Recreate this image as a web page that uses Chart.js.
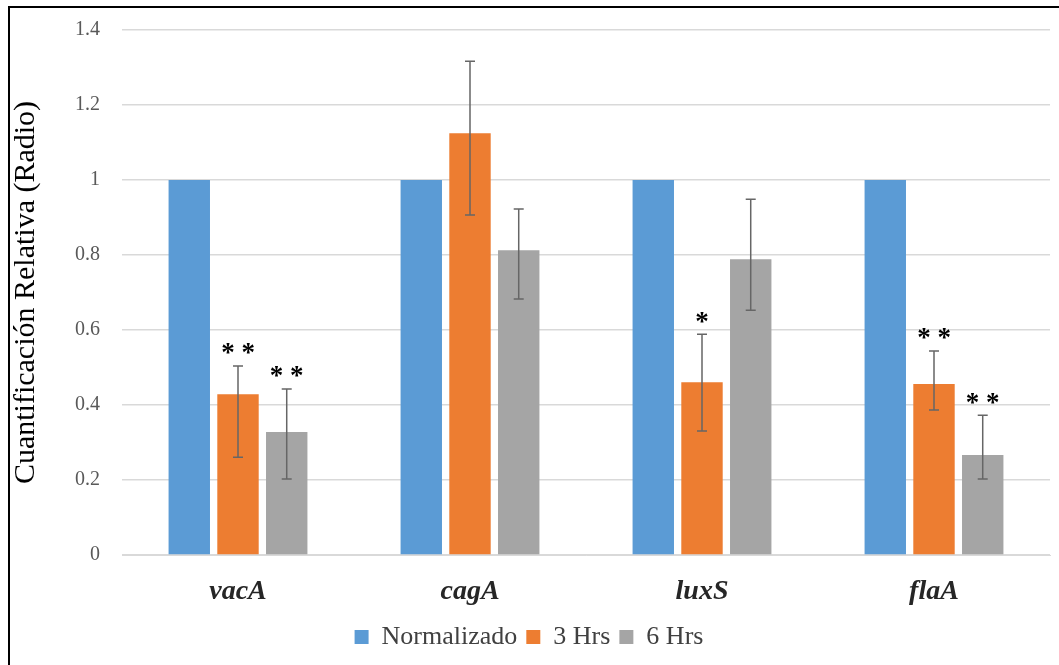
<!DOCTYPE html>
<html>
<head>
<meta charset="utf-8">
<script src="https://cdn.jsdelivr.net/npm/chart.js@4"></script>
<style>
  html, body { margin: 0; padding: 0; background: #fff; overflow: hidden; }
  #frame { position: absolute; left: 8px; top: 6px; width: 1070px; height: 680px; border: 2px solid #000; }
  #wrap { position: absolute; left: 0; top: 0; width: 1059px; height: 665px; }
</style>
</head>
<body>
<div id="frame"></div>
<div id="wrap"><canvas id="chart" width="1059" height="665"></canvas></div>
<script>
const genes = ['vacA', 'cagA', 'luxS', 'flaA'];
const seriesNames = ['Normalizado', '3 Hrs', '6 Hrs'];
const normalizado = [1, 1, 1, 1];
const hrs3 = [0.429, 1.125, 0.461, 0.456];
const hrs6 = [0.328, 0.813, 0.789, 0.267];
// error bar ends (upper / lower)
const hrs3Upper = [0.504, 1.317, 0.589, 0.544];
const hrs3Lower = [0.261, 0.907, 0.331, 0.387];
const hrs6Upper = [0.443, 0.923, 0.949, 0.373];
const hrs6Lower = [0.203, 0.683, 0.653, 0.203];
const hrs3Marks = ['**', '', '*', '**'];
const hrs6Marks = ['**', '', '', '**'];
const yTicks = [0, 0.2, 0.4, 0.6, 0.8, 1, 1.2, 1.4];

const serif = '"Liberation Serif", "Times New Roman", serif';

const errorBars = {
  id: 'errorBars',
  afterDatasetsDraw(chart) {
    const ctx = chart.ctx;
    const y = chart.scales.y;
    chart.data.datasets.forEach((ds, i) => {
      if (!ds.upper) return;
      const meta = chart.getDatasetMeta(i);
      meta.data.forEach((bar, j) => {
        const x = bar.x;
        const yt = y.getPixelForValue(ds.upper[j]);
        const yb = y.getPixelForValue(ds.lower[j]);
        ctx.save();
        ctx.strokeStyle = '#666';
        ctx.lineWidth = 1.5;
        ctx.beginPath();
        ctx.moveTo(x, yt); ctx.lineTo(x, yb);
        ctx.moveTo(x - 5, yt); ctx.lineTo(x + 5, yt);
        ctx.moveTo(x - 5, yb); ctx.lineTo(x + 5, yb);
        ctx.stroke();
        if (ds.marks[j]) {
          ctx.fillStyle = '#000';
          ctx.font = 'bold 27px ' + serif;
          ctx.textAlign = 'center';
          ctx.textBaseline = 'top';
          ctx.fillText(ds.marks[j].split('').join(' '), x, yt - 25);
        }
        ctx.restore();
      });
    });
  }
};

new Chart(document.getElementById('chart'), {
  type: 'bar',
  data: {
    labels: genes,
    datasets: [
      { label: seriesNames[0], data: normalizado, backgroundColor: '#5B9BD5' },
      { label: seriesNames[1], data: hrs3, backgroundColor: '#ED7D31', upper: hrs3Upper, lower: hrs3Lower, marks: hrs3Marks },
      { label: seriesNames[2], data: hrs6, backgroundColor: '#A5A5A5', upper: hrs6Upper, lower: hrs6Lower, marks: hrs6Marks }
    ]
  },
  options: {
    responsive: false,
    animation: false,
    devicePixelRatio: 1,
    categoryPercentage: 0.63,
    barPercentage: 0.85,
    layout: { padding: { left: 8, right: 9, top: 30, bottom: 5 } },
    plugins: {
      tooltip: { enabled: false },
      legend: {
        position: 'bottom',
        labels: {
          boxWidth: 14, boxHeight: 14, padding: 9,
          color: '#404040',
          font: { family: serif, size: 26 }
        }
      }
    },
    scales: {
      x: {
        grid: { display: false, drawTicks: false },
        border: { color: '#d9d9d9', width: 1 },
        ticks: { color: '#262626', padding: 20, font: { family: serif, size: 28, style: 'italic', weight: 'bold' } },
        afterFit(s) { s.height = 60; }
      },
      y: {
        min: 0, max: 1.4,
        afterBuildTicks(s) { s.ticks = yTicks.map(v => ({ value: v })); },
        grid: { color: '#d9d9d9', drawTicks: false, lineWidth: 1.5 },
        border: { display: false },
        ticks: {
          color: '#595959', padding: 22, font: { family: serif, size: 20 },
          callback: v => String(+v.toFixed(1))
        },
        title: { display: true, text: 'Cuantificación Relativa (Radio)', color: '#000', font: { family: serif, size: 30 }, padding: { top: 0, bottom: 2 } },
        afterFit(s) { s.width = 114; s.paddingTop = 0; s.paddingBottom = 0; }
      }
    }
  },
  plugins: [errorBars]
});
</script>
</body>
</html>
